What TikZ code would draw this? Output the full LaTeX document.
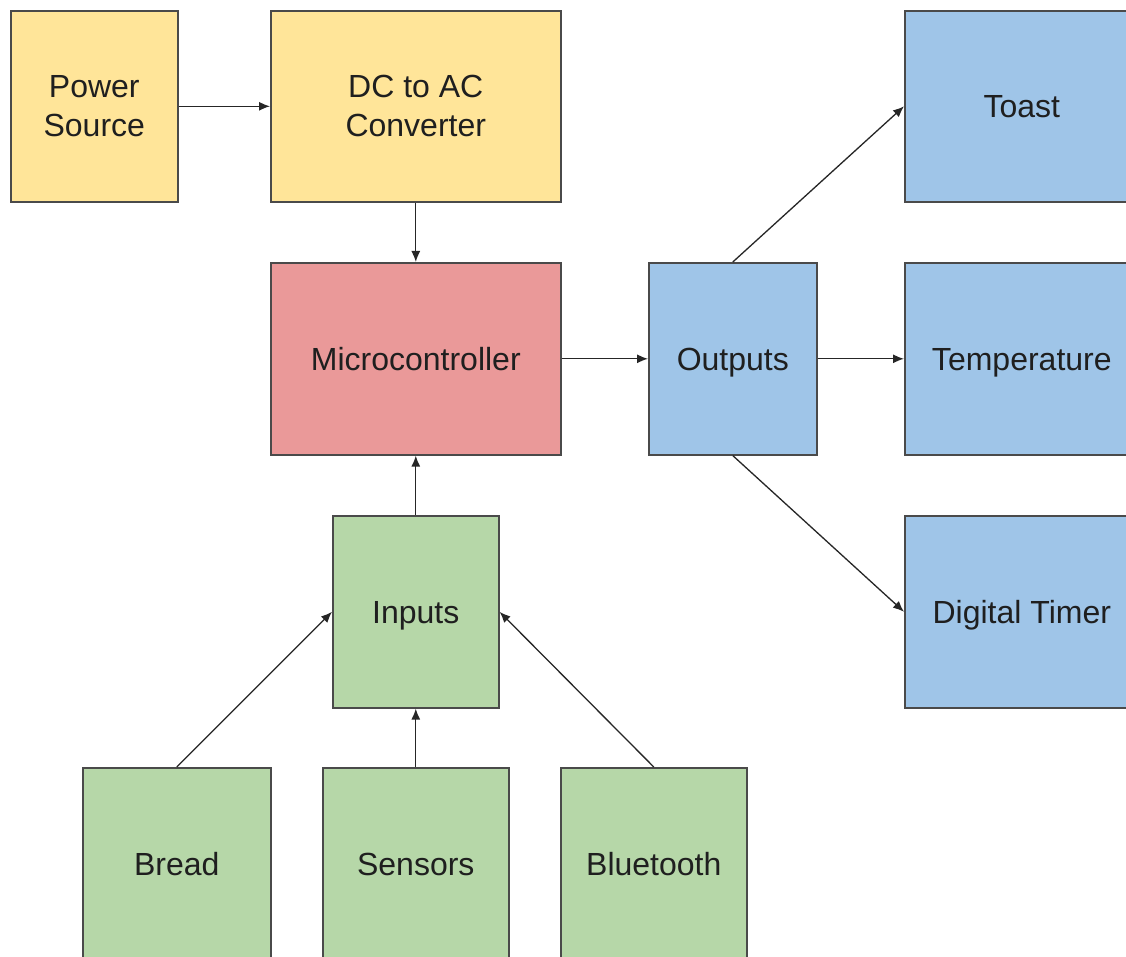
\documentclass[tikz,border=0pt]{standalone}
\usepackage{fontspec}
\setmainfont{Liberation Sans}
\usetikzlibrary{arrows.meta}
\definecolor{cyel}{HTML}{FFE599}
\definecolor{cred}{HTML}{EA9999}
\definecolor{cblue}{HTML}{9FC5E8}
\definecolor{cgreen}{HTML}{B6D7A8}
\definecolor{cline}{HTML}{4A4A4A}
\definecolor{ctext}{HTML}{1F1F1F}
\tikzset{
  blk/.style={draw=cline, line width=1.6pt, anchor=north west, inner sep=0pt,
    align=center, text=ctext, font=\fontsize{32}{39}\selectfont},
  oneline/.style={text height=23pt, text depth=0pt},
  conn/.style={draw=black!85, line width=1.3pt, -{Latex[length=11pt,width=9pt]}}
}
\begin{document}
\begin{tikzpicture}[x=1pt,y=-1pt]
\useasboundingbox (0,0) rectangle (1126,957);
\clip (0,0) rectangle (1126,957);
\fill[white] (0,0) rectangle (1126,957);
% boxes
\node[blk, fill=cyel, minimum width=167pt, minimum height=191pt] (ps) at (10,10) {Power\\Source};
\node[blk, fill=cyel, minimum width=290pt, minimum height=191pt] (dc) at (270,10) {DC to AC\\Converter};
\node[blk, oneline, fill=cred, minimum width=290pt, minimum height=192pt] (mc) at (270,262) {Microcontroller};
\node[blk, oneline, fill=cblue, minimum width=168pt, minimum height=192pt] (out) at (648,262) {Outputs};
\node[blk, oneline, fill=cblue, minimum width=234pt, minimum height=191pt] (toast) at (904,10) {Toast};
\node[blk, oneline, fill=cblue, minimum width=234pt, minimum height=192pt] (temp) at (904,262) {Temperature};
\node[blk, oneline, fill=cblue, minimum width=234pt, minimum height=192pt] (timer) at (904,515) {Digital Timer};
\node[blk, oneline, fill=cgreen, minimum width=166pt, minimum height=192pt] (in) at (332,515) {Inputs};
\node[blk, oneline, fill=cgreen, minimum width=188pt, minimum height=192pt] (bread) at (82,767) {Bread};
\node[blk, oneline, fill=cgreen, minimum width=186pt, minimum height=192pt] (sens) at (322,767) {Sensors};
\node[blk, oneline, fill=cgreen, minimum width=186pt, minimum height=192pt] (bt) at (560,767) {Bluetooth};
% connectors
\draw[conn] (ps.east) -- (dc.west);
\draw[conn] (dc.south) -- (mc.north);
\draw[conn] (mc.east) -- (out.west);
\draw[conn] (out.north) -- (toast.west);
\draw[conn] (out.east) -- (temp.west);
\draw[conn] (out.south) -- (timer.west);
\draw[conn] (in.north) -- (mc.south);
\draw[conn] (bread.north) -- (in.west);
\draw[conn] (sens.north) -- (in.south);
\draw[conn] (bt.north) -- (in.east);
\end{tikzpicture}
\end{document}
